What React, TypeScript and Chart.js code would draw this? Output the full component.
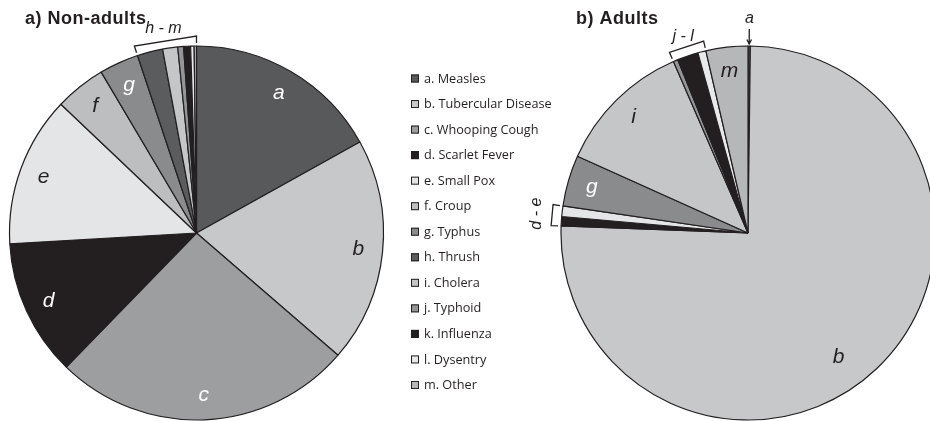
import React, { useEffect, useRef } from "react";
import { Chart, registerables } from "chart.js";

Chart.register(...registerables);

// ---------------- data ----------------
const categories = [
  "a. Measles",
  "b. Tubercular Disease",
  "c. Whooping Cough",
  "d. Scarlet Fever",
  "e. Small Pox",
  "f. Croup",
  "g. Typhus",
  "h. Thrush",
  "i. Cholera",
  "j. Typhoid",
  "k. Influenza",
  "l. Dysentry",
  "m. Other",
];
const sliceLetters = ["a", "b", "c", "d", "e", "f", "g", "h", "i", "j", "k", "l", "m"];
const nonAdultValues = [16.9, 19.4, 25.9, 11.8, 13.0, 4.4, 3.4, 2.2, 1.3, 0.5, 0.6, 0.3, 0.2];
const adultValues = [0.2, 75.1, 0, 0.8, 0.9, 0, 4.4, 0, 11.7, 0.4, 1.8, 0.7, 3.6];
const sliceColors = [
  "#58595b",
  "#c7c8ca",
  "#9d9ea0",
  "#231f20",
  "#e4e5e7",
  "#bdbec0",
  "#8a8b8d",
  "#5b5c5e",
  "#c5c6c8",
  "#939598",
  "#231f20",
  "#e8e9ea",
  "#b6b7b9",
];
const nonAdultTitle = "a) Non-adults";
const adultTitle = "b) Adults";
const nonAdultLabelled = ["a", "b", "c", "d", "e", "f", "g"];
const adultLabelled = ["b", "g", "i", "m"];
const nonAdultBrackets = [{ from: "h", to: "m", text: "h - m", rotate: false }];
const adultBrackets = [
  { from: "j", to: "l", text: "j - l", rotate: false },
  { from: "d", to: "e", text: "d - e", rotate: true },
];
const adultArrows = [{ at: "a", text: "a" }];

// ---------------- drawing helpers ----------------
const INK = "#231f20";
const FONT = "'Liberation Sans', Arial, sans-serif";

function isDark(hex: string) {
  const n = parseInt(hex.slice(1), 16);
  const r = n >> 16, g = (n >> 8) & 255, b = n & 255;
  return 0.299 * r + 0.587 * g + 0.114 * b < 170;
}

function annotPlugin(opts: any) {
  return {
    id: "pieAnnotations",
    afterDraw(chart: any) {
      const ctx = chart.ctx as CanvasRenderingContext2D;
      const arcs = chart.getDatasetMeta(0).data as any[];
      if (!arcs.length) return;
      const cx = arcs[0].x, cy = arcs[0].y, R = arcs[0].outerRadius;
      const pt = (ang: number, r: number) => [cx + r * Math.cos(ang), cy + r * Math.sin(ang)];
      ctx.save();

      // title
      ctx.font = `bold 18px ${FONT}`;
      (ctx as any).letterSpacing = "0.5px";
      ctx.fillStyle = INK;
      ctx.textAlign = "left";
      ctx.textBaseline = "alphabetic";
      ctx.fillText(opts.title, opts.titleX, opts.titleY);
      (ctx as any).letterSpacing = "0px";

      // slice letters
      ctx.font = `italic 21px ${FONT}`;
      ctx.textAlign = "center";
      ctx.textBaseline = "middle";
      opts.labelled.forEach((letter: string) => {
        const i = sliceLetters.indexOf(letter);
        const arc = arcs[i];
        const span = arc.endAngle - arc.startAngle;
        // very wide slices: place label a little further along, nearer the centre
        const frac = span > Math.PI ? 0.527 : 0.5;
        const mid = arc.startAngle + span * frac;
        const [x, y] = pt(mid, R * (span > Math.PI ? 0.82 : 0.87));
        ctx.fillStyle = isDark(sliceColors[i]) ? "#ffffff" : INK;
        ctx.fillText(letter, x, y);
      });

      // brackets
      ctx.strokeStyle = INK;
      ctx.lineWidth = 1.3;
      ctx.fillStyle = INK;
      ctx.font = `italic 16px ${FONT}`;
      (opts.brackets || []).forEach((b: any) => {
        const a0 = arcs[sliceLetters.indexOf(b.from)].startAngle;
        const a1 = arcs[sliceLetters.indexOf(b.to)].endAngle;
        const rOut = R + 10, rIn = R + 3;
        const p0 = pt(a0, rIn), p1 = pt(a0, rOut), p2 = pt(a1, rOut), p3 = pt(a1, rIn);
        ctx.beginPath();
        ctx.moveTo(p0[0], p0[1]);
        ctx.lineTo(p1[0], p1[1]);
        ctx.lineTo(p2[0], p2[1]);
        ctx.lineTo(p3[0], p3[1]);
        ctx.stroke();
        const mid = (a0 + a1) / 2;
        if (b.rotate) {
          const [tx, ty] = pt(mid, R + 25);
          ctx.save();
          ctx.translate(tx, ty);
          ctx.rotate(-Math.PI / 2);
          ctx.fillText(b.text, 0, 0);
          ctx.restore();
        } else {
          const [tx, ty] = pt(mid, R + 20);
          ctx.fillText(b.text, tx, ty);
        }
      });

      // arrows
      (opts.arrows || []).forEach((a: any) => {
        const arc = arcs[sliceLetters.indexOf(a.at)];
        const mid = (arc.startAngle + arc.endAngle) / 2;
        const [tx, ty] = pt(mid, R + 27);
        ctx.fillText(a.text, tx, ty);
        const s = pt(mid, R + 17), e = pt(mid, R + 2);
        ctx.beginPath();
        ctx.moveTo(s[0], s[1]);
        ctx.lineTo(e[0], e[1]);
        const back = 4.5;
        const h1 = pt(mid + 0.012, R + 2 + back);
        const h2 = pt(mid - 0.012, R + 2 + back);
        ctx.moveTo(h1[0], h1[1]);
        ctx.lineTo(e[0], e[1]);
        ctx.lineTo(h2[0], h2[1]);
        ctx.stroke();
      });

      // legend
      if (opts.legend) {
        const lg = opts.legend;
        ctx.font = `12.7px 'Open Sans', sans-serif`;
        ctx.textAlign = "left";
        ctx.textBaseline = "middle";
        chart.data.labels.forEach((label: string, i: number) => {
          const y = lg.y0 + i * lg.step;
          ctx.fillStyle = sliceColors[i];
          ctx.fillRect(lg.x, y - 4, 8, 8);
          ctx.strokeStyle = INK;
          ctx.lineWidth = 1;
          ctx.strokeRect(lg.x + 0.5, y - 3.5, 7, 7);
          ctx.fillStyle = INK;
          ctx.fillText(label, lg.x + 13, y + 0.5);
        });
      }
      ctx.restore();
    },
  };
}

function PieCanvas(props: any) {
  const ref = useRef<HTMLCanvasElement>(null);
  useEffect(() => {
    const canvas = ref.current!;
    const chart = new Chart(canvas, {
      type: "pie",
      data: {
        labels: categories,
        datasets: [
          {
            data: props.values,
            backgroundColor: sliceColors,
            borderColor: INK,
            borderWidth: 1.2,
            radius: props.radius,
          } as any,
        ],
      },
      options: {
        responsive: false,
        animation: false,
        events: [],
        layout: { padding: props.padding },
        plugins: {
          legend: { display: false },
          tooltip: { enabled: false },
        },
      },
      plugins: [annotPlugin(props.annot)],
    });
    return () => chart.destroy();
  }, []);
  return (
    <canvas
      ref={ref}
      width={props.width}
      height={421}
      style={{ position: "absolute", left: props.left, top: 0, width: props.width, height: 421 }}
    />
  );
}

export default function App() {
  return (
    <div
      style={{
        position: "absolute",
        left: 0,
        top: 0,
        width: 930,
        height: 421,
        overflow: "hidden",
        background: "#ffffff",
      }}
    >
      <PieCanvas
        left={0}
        width={560}
        values={nonAdultValues}
        radius={187}
        padding={{ left: 9, right: 176, top: 45, bottom: 0 }}
        annot={{
          title: nonAdultTitle,
          titleX: 25,
          titleY: 24,
          labelled: nonAdultLabelled,
          brackets: nonAdultBrackets,
          legend: { x: 411, y0: 78.5, step: 25.54 },
        }}
      />
      <PieCanvas
        left={520}
        width={420}
        values={adultValues}
        radius={187}
        padding={{ left: 40, right: 4, top: 45, bottom: 0 }}
        annot={{
          title: adultTitle,
          titleX: 56,
          titleY: 24,
          labelled: adultLabelled,
          brackets: adultBrackets,
          arrows: adultArrows,
        }}
      />
    </div>
  );
}
